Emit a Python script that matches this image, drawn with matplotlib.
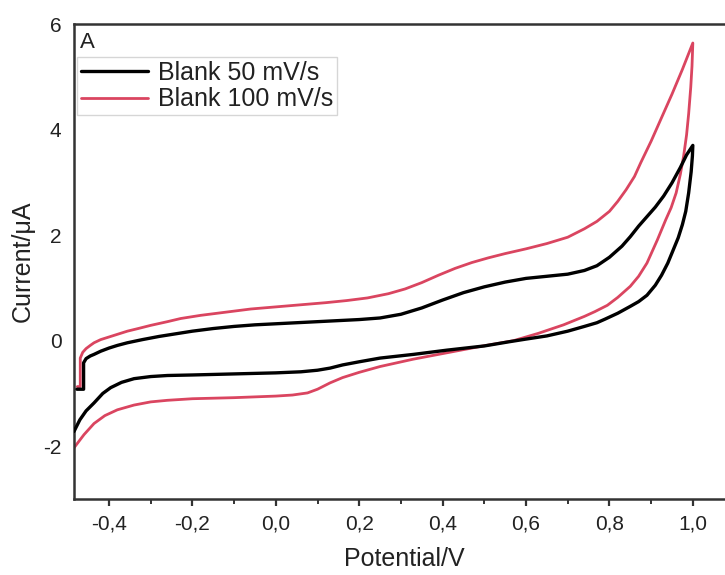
import matplotlib
matplotlib.use("Agg")
import matplotlib.pyplot as plt
from matplotlib.ticker import MultipleLocator, FuncFormatter

plt.rcParams['font.family'] = ['Liberation Sans', 'DejaVu Sans']

# Cyclic voltammograms of the blank electrode (potential in V, current in µA)
# 50 mV/s: anodic sweep from the start step up to 1.0 V, then cathodic sweep back
blank50_potential = [
    -0.477, -0.461, -0.461, -0.455, -0.445, -0.436, -0.420, -0.400, -0.380,
    -0.356, -0.320, -0.280, -0.240, -0.200, -0.150, -0.100, -0.050, 0.000,
    0.050, 0.100, 0.150, 0.200, 0.250, 0.300, 0.350, 0.400, 0.450, 0.500,
    0.550, 0.600, 0.650, 0.700, 0.740, 0.770, 0.800, 0.830, 0.850, 0.870,
    0.890, 0.910, 0.930, 0.950, 0.970, 0.985, 1.000,
    0.999, 0.996, 0.990, 0.983, 0.975, 0.965, 0.952, 0.940, 0.925, 0.910,
    0.890, 0.870, 0.850, 0.820, 0.790, 0.770, 0.740, 0.700, 0.650, 0.600,
    0.560, 0.500, 0.410, 0.330, 0.250, 0.200, 0.160, 0.130, 0.100, 0.060,
    0.000, -0.100, -0.200, -0.260, -0.300, -0.340, -0.370, -0.396, -0.415,
    -0.436, -0.455, -0.470, -0.484,
]
blank50_current = [
    -0.92, -0.92, -0.42, -0.34, -0.29, -0.26, -0.20, -0.14, -0.09,
    -0.04, 0.02, 0.08, 0.13, 0.18, 0.23, 0.27, 0.30, 0.32,
    0.34, 0.36, 0.38, 0.40, 0.43, 0.50, 0.62, 0.77, 0.91, 1.02,
    1.11, 1.18, 1.22, 1.26, 1.33, 1.42, 1.58, 1.79, 1.97, 2.17,
    2.35, 2.53, 2.74, 2.99, 3.28, 3.52, 3.70,
    3.50, 3.20, 2.80, 2.45, 2.20, 1.95, 1.70, 1.47, 1.24, 1.05,
    0.86, 0.74, 0.65, 0.52, 0.41, 0.34, 0.27, 0.18, 0.09, 0.03,
    -0.02, -0.10, -0.18, -0.26, -0.33, -0.40, -0.46, -0.52, -0.56, -0.59,
    -0.61, -0.63, -0.65, -0.66, -0.68, -0.72, -0.79, -0.89, -1.00,
    -1.18, -1.33, -1.50, -1.72,
]

# 100 mV/s
blank100_potential = [
    -0.476, -0.469, -0.469, -0.463, -0.455, -0.445, -0.436, -0.420, -0.400,
    -0.380, -0.356, -0.330, -0.300, -0.260, -0.228, -0.180, -0.120, -0.060,
    0.000, 0.060, 0.120, 0.170, 0.220, 0.270, 0.310, 0.350, 0.390, 0.430,
    0.470, 0.510, 0.550, 0.600, 0.650, 0.700, 0.740, 0.770, 0.800, 0.820,
    0.840, 0.860, 0.875, 0.900, 0.923, 0.950, 0.975, 1.000,
    0.998, 0.995, 0.990, 0.985, 0.978, 0.970, 0.960, 0.948, 0.935, 0.915,
    0.890, 0.870, 0.850, 0.820, 0.795, 0.765, 0.740, 0.690, 0.630, 0.570,
    0.490, 0.410, 0.330, 0.250, 0.200, 0.160, 0.130, 0.100, 0.076, 0.040,
    0.000, -0.100, -0.200, -0.260, -0.300, -0.340, -0.380, -0.410, -0.436,
    -0.460, -0.484,
]
blank100_current = [
    -0.87, -0.87, -0.33, -0.22, -0.15, -0.09, -0.04, 0.02, 0.07,
    0.12, 0.18, 0.23, 0.29, 0.36, 0.42, 0.48, 0.54, 0.60,
    0.64, 0.68, 0.72, 0.76, 0.81, 0.89, 0.98, 1.10, 1.24, 1.37,
    1.48, 1.57, 1.65, 1.74, 1.84, 1.96, 2.12, 2.26, 2.45, 2.64,
    2.86, 3.11, 3.37, 3.78, 4.19, 4.67, 5.14, 5.64,
    5.20, 4.80, 4.30, 3.90, 3.50, 3.15, 2.80, 2.52, 2.29, 1.91,
    1.47, 1.22, 1.03, 0.82, 0.67, 0.55, 0.46, 0.30, 0.14, 0.00,
    -0.11, -0.23, -0.35, -0.49, -0.60, -0.70, -0.80, -0.92, -0.99, -1.03,
    -1.05, -1.08, -1.10, -1.13, -1.16, -1.22, -1.31, -1.42, -1.57,
    -1.78, -2.03,
]

series_labels = ["Blank 50 mV/s", "Blank 100 mV/s"]
x_ticks = [-0.4, -0.2, 0.0, 0.2, 0.4, 0.6, 0.8, 1.0]
y_ticks = [-2, 0, 2, 4, 6]

W, H = 725, 575
fig = plt.figure(figsize=(W / 100, H / 100), dpi=100)
xlim = (-0.484, 1.10)
ylim = (-3.0, 6.0)
left_px, bottom_px, top_px = 74, 499, 24
px_per_volt = 417.0
ax = fig.add_axes([left_px / W, (H - bottom_px) / H,
                   (xlim[1] - xlim[0]) * px_per_volt / W,
                   (bottom_px - top_px) / H])

ax.plot(blank50_potential, blank50_current, color='black', lw=2.4,
        solid_joinstyle='round', solid_capstyle='round',
        label=series_labels[0], zorder=3)
ax.plot(blank100_potential, blank100_current, color='#da4560', lw=2.0,
        solid_joinstyle='round', solid_capstyle='round',
        label=series_labels[1], zorder=2)

ax.set_xlim(*xlim)
ax.set_ylim(*ylim)

comma = FuncFormatter(lambda v, p: f"{v:.1f}".replace('.', ','))
ax.set_xticks(x_ticks)
ax.xaxis.set_major_formatter(comma)
ax.xaxis.set_minor_locator(MultipleLocator(0.1))
ax.set_yticks(y_ticks)
ax.yaxis.set_major_formatter(FuncFormatter(lambda v, p: f"{int(round(v))}"))

ax.tick_params(axis='x', which='major', direction='out', length=5, width=1.6,
               color='#333333', labelsize=15, pad=6, labelcolor='#222222')
ax.tick_params(axis='x', which='minor', direction='out', length=3.5, width=1.4,
               color='#333333')
ax.tick_params(axis='y', which='both', length=0, labelsize=15, pad=9,
               labelcolor='#222222')

for sp in ax.spines.values():
    sp.set_color('#333333')
    sp.set_linewidth(1.8)

ax.set_xlabel("Potential/V", fontsize=18, labelpad=10, color='#222222')
ax.set_ylabel("Current/μA", fontsize=18, labelpad=6, color='#222222')

ax.text(80 / W, 1 - 43 / H, "A", transform=fig.transFigure, fontsize=16,
        ha='left', va='center', color='#222222')

leg = ax.legend(loc='upper left', bbox_to_anchor=(77 / W, 1 - 57 / H),
                bbox_transform=fig.transFigure, borderaxespad=0,
                fontsize=18, frameon=True, fancybox=False,
                handlelength=2.7, handletextpad=0.4, borderpad=0.15,
                labelspacing=0.1)
leg.get_frame().set_edgecolor('#cccccc')
leg.get_frame().set_linewidth(1.0)
for t in leg.get_texts():
    t.set_color('#222222')

fig.savefig("out.png", dpi=100)
